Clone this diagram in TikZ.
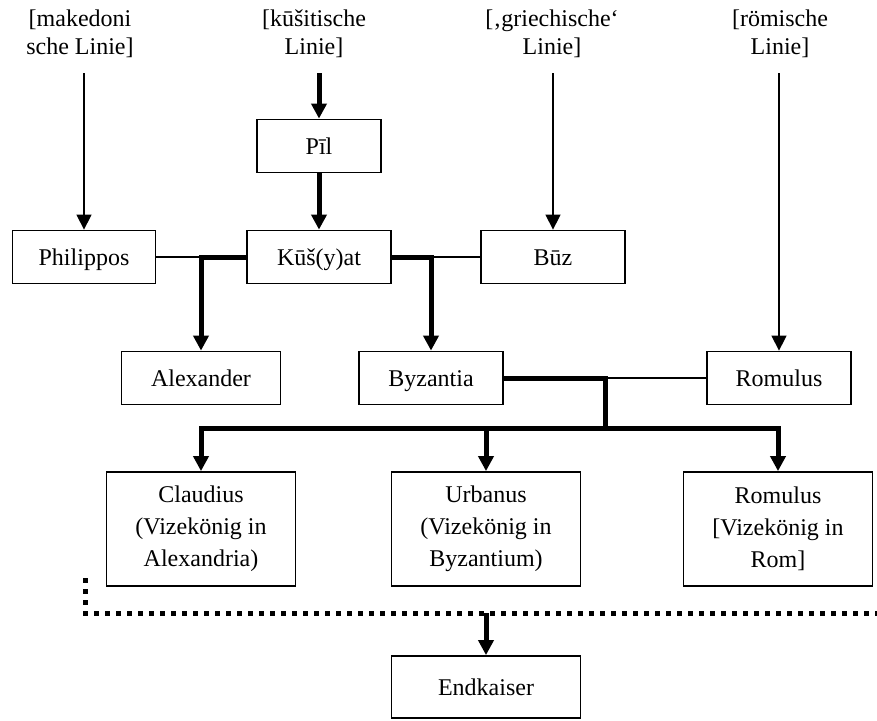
\documentclass[tikz,border=0pt]{standalone}
\usepackage{fontspec}
\setmainfont{Liberation Serif}
\usetikzlibrary{arrows.meta}

\begin{document}
\begin{tikzpicture}[x=1pt, y=-1pt,
    box/.style={draw, line width=1.8pt, inner sep=0pt, minimum height=53pt,
      align=center, font=\fontsize{24}{32}\selectfont},
    onebox/.style={box, text height=22pt, text depth=5pt},
    toplabel/.style={align=center, font=\fontsize{24}{28}\selectfont},
    thinline/.style={line width=1.4pt},
    thickline/.style={line width=5pt},
    thinarr/.style={thinline, -{Triangle[width=15pt,length=15pt]}},
    thickarr/.style={thickline, -{Triangle[width=15pt,length=15pt]}},
    dotline/.style={line width=5pt, dash pattern=on 5pt off 6pt}]
  \useasboundingbox (0,0) rectangle (877,720);
  \clip (0,0) rectangle (877,720);

  % lines at the top
  \node[toplabel] (lmak) at (80,34) {[makedoni\\sche Linie]};
  \node[toplabel] (lkus) at (314,34) {[kūšitische\\Linie]};
  \node[toplabel] (lgri) at (552,34) {[‚griechische‘\\Linie]};
  \node[toplabel] (lrom) at (780,34) {[römische\\Linie]};

  % first generation
  \node[onebox, minimum width=124pt] (pil) at (319,146) {Pīl};
  \node[onebox, minimum width=143pt] (phil) at (84,257) {Philippos};
  \node[onebox, minimum width=144pt] (kus) at (319,257) {Kūš(y)at};
  \node[onebox, minimum width=144pt] (buz) at (553,257) {Būz};

  % second generation
  \node[onebox, minimum width=159pt] (alex) at (201,378) {Alexander};
  \node[onebox, minimum width=144pt] (byz) at (431,378) {Byzantia};
  \node[onebox, minimum width=144pt] (romA) at (779,378) {Romulus};

  % viceroys
  \node[box, minimum width=189pt, minimum height=114pt] (claud) at (201,529)
    {Claudius\\(Vizekönig in\\Alexandria)};
  \node[box, minimum width=189pt, minimum height=114pt] (urb) at (486,529)
    {Urbanus\\(Vizekönig in\\Byzantium)};
  \node[box, minimum width=189pt, minimum height=114pt] (romB) at (778,529)
    {Romulus\\{[}Vizekönig in\\Rom{]}};

  \node[onebox, minimum width=189pt, minimum height=62pt] (endk) at (486,687) {Endkaiser};

  % arrows from the lines
  \draw[thinarr, shorten <=12pt] (lmak.south -| phil) -- (phil);
  \draw[thickarr, shorten <=12pt] (lkus.south -| pil) -- (pil);
  \draw[thickarr] (pil) -- (kus);
  \draw[thinarr, shorten <=12pt] (lgri.south -| buz) -- (buz);
  \draw[thinarr, shorten <=12pt] (lrom.south -| romA) -- (romA);

  % marriages
  \coordinate (jA) at (alex |- kus);
  \coordinate (jB) at (byz |- kus);
  \coordinate (jC) at (605,378);
  \coordinate (jD) at (605,428);
  \draw[thinline] (phil) -- (jA);
  \draw[thickarr] (kus) -- (jA) -- (alex);
  \draw[thinline] (jB) -- (buz);
  \draw[thickarr] (kus) -- (jB) -- (byz);
  \draw[thinline] (jC) -- (romA);
  \draw[thickline] (byz) -- (jC) -- (jD);
  \draw[thickarr] (jD) -| (claud);
  \draw[thickarr] (jD) -| (romB);
  \draw[thickarr] (jD -| urb) -- (urb);

  % dotted line to the last emperor
  \coordinate (dotA) at (85,578);
  \coordinate (dotB) at (85,613);
  \coordinate (dotC) at (885,613);
  \draw[dotline] (dotA) -- (dotB) -- (dotC);
  \draw[thickarr] (dotB -| endk) -- (endk);
\end{tikzpicture}
\end{document}
